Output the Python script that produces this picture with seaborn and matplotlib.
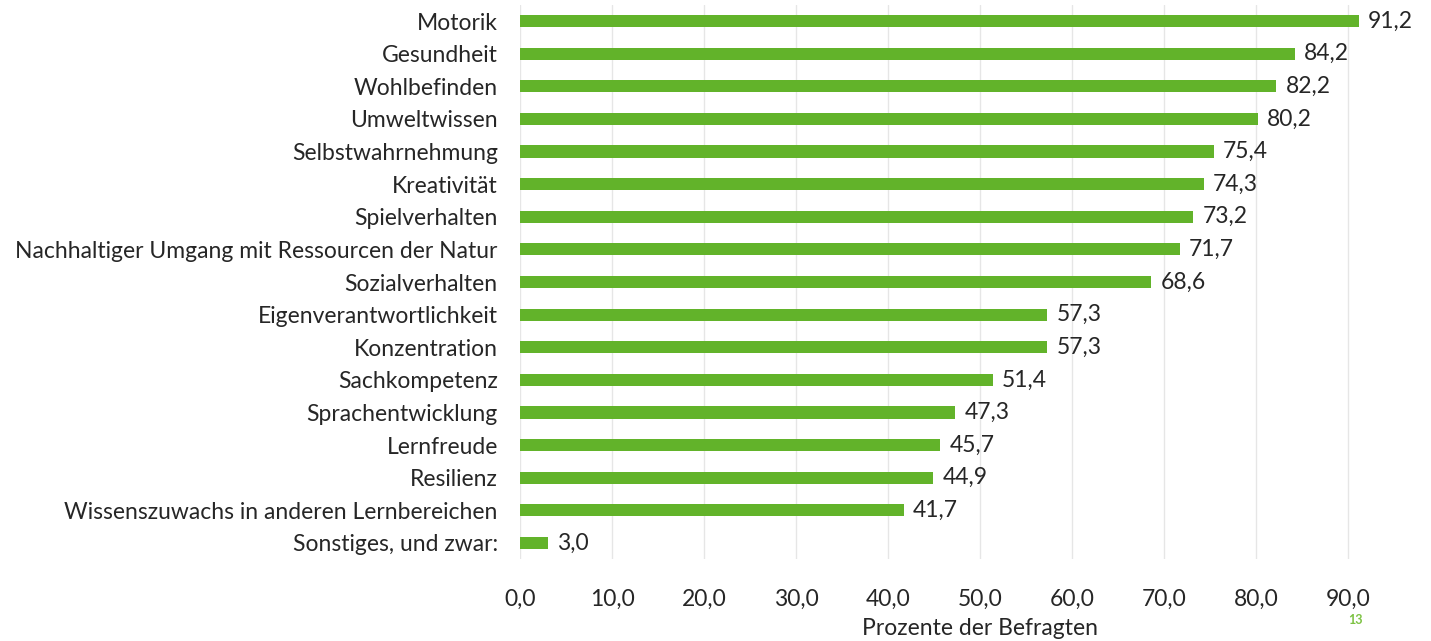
import matplotlib
matplotlib.use("Agg")
import matplotlib.pyplot as plt
import seaborn as sns
import pandas as pd

categories = ["Motorik", "Gesundheit", "Wohlbefinden", "Umweltwissen", "Selbstwahrnehmung",
              "Kreativität", "Spielverhalten", "Nachhaltiger Umgang mit Ressourcen der Natur",
              "Sozialverhalten", "Eigenverantwortlichkeit", "Konzentration", "Sachkompetenz",
              "Sprachentwicklung", "Lernfreude", "Resilienz",
              "Wissenszuwachs in anderen Lernbereichen", "Sonstiges, und zwar:"]
values = [91.2, 84.2, 82.2, 80.2, 75.4, 74.3, 73.2, 71.7, 68.6, 57.3, 57.3, 51.4,
          47.3, 45.7, 44.9, 41.7, 3.0]
xticks = [0, 10, 20, 30, 40, 50, 60, 70, 80, 90]

df = pd.DataFrame({"cat": categories, "val": values})

sns.set_theme(style="white")
plt.rcParams['font.family'] = ['Lato', 'DejaVu Sans']
text_color = "#262626"
fs = 16.5

fig = plt.figure(figsize=(14.31, 6.41), dpi=100)
ax = fig.add_axes([520/1431, 1-559.3/641, 920/1431, (559.3-4.7)/641])

sns.barplot(data=df, x="val", y="cat", color="#62B32A", width=0.37, ax=ax,
            saturation=1, edgecolor="none", zorder=3)

ax.set_xlim(0, 100)
ax.set_xticks(xticks)
ax.set_xticklabels([f"{t:.1f}".replace(".", ",") for t in xticks], fontsize=fs, color=text_color)
ax.tick_params(axis="x", pad=21, length=0)
ax.tick_params(axis="y", pad=16, length=0, labelsize=fs, labelcolor=text_color)
ax.grid(axis="x", color="#e6e6e6", linewidth=1, zorder=0)
ax.grid(axis="y", visible=False)
for s in ax.spines.values():
    s.set_visible(False)
ax.set_ylabel("")
ax.set_xlabel("Prozente der Befragten", fontsize=fs, color=text_color, labelpad=6)

for i, v in enumerate(values):
    ax.text(v + 1.0, i, f"{v:.1f}".replace(".", ","), va="center", ha="left",
            fontsize=fs, color=text_color, zorder=4)

fig.text(1355/1431, 1-620/641, "13", color="#7CC242", fontsize=9, fontweight="bold",
         ha="center", va="center")

fig.savefig("out.png", dpi=100)
